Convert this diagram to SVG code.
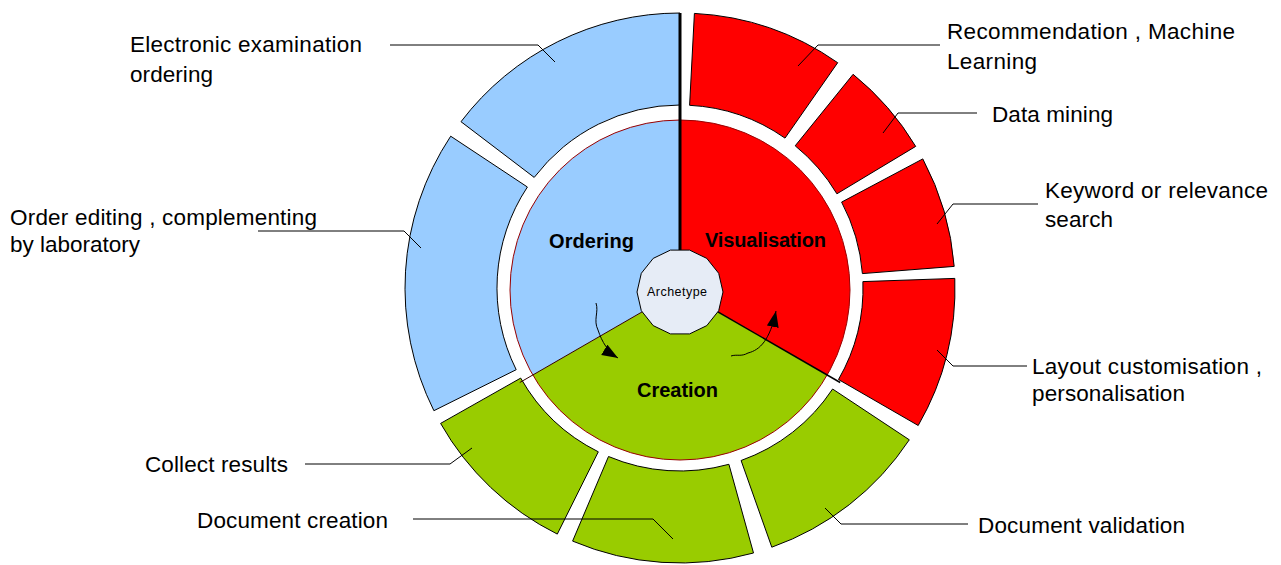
<svg xmlns="http://www.w3.org/2000/svg" width="1281" height="565" viewBox="0 0 1281 565">
<style>
.lbl{font-family:"Liberation Sans",Arial,sans-serif;font-size:22.5px;fill:#000}
.core{font-family:"Liberation Sans",Arial,sans-serif;font-size:20px;font-weight:bold;fill:#000}
.seg{stroke:#000;stroke-width:1}
.blue{fill:#99CCFF}
.red{fill:#FF0000}
.green{fill:#99CC00}
.lead{fill:none;stroke:#000;stroke-width:1}
.arr{fill:none;stroke:#000;stroke-width:1}
</style>
<defs>
<marker id="ah" markerUnits="userSpaceOnUse" markerWidth="17" markerHeight="13" refX="16" refY="6" orient="auto">
<path d="M0,0 L16,6 L0,12 Z" fill="#000"/>
</marker>
</defs>
<rect width="1281" height="565" fill="#fff"/>

<g id="ring-ordering">
<g id="seg-electronic"><path class="seg blue" d="M680,13 A275,275 0 0 0 461,121.7 L534.2,177.4 A183,183 0 0 1 680,105 Z"/></g>
<g id="seg-order-editing"><path class="seg blue" d="M450.7,136.2 A275,275 0 0 0 433.9,410.7 L516.2,369.7 A183,183 0 0 1 527.4,187 Z"/></g>
</g>
<g id="ring-creation">
<g id="seg-collect"><path class="seg green" d="M440.6,423.4 A275,275 0 0 0 557.3,534.1 L598.3,451.8 A183,183 0 0 1 520.7,378.1 Z"/></g>
<g id="seg-doc-creation"><path class="seg green" d="M572.6,541.1 A275,275 0 0 0 753.5,553 L728.9,464.3 A183,183 0 0 1 608.5,456.5 Z"/></g>
<g id="seg-doc-validation"><path class="seg green" d="M771.8,547.2 A275,275 0 0 0 909.3,439.8 L832.6,389 A183,183 0 0 1 741.1,460.5 Z"/></g>
</g>
<g id="ring-visualisation">
<g id="seg-layout"><path class="seg red" d="M918.2,425.5 A275,275 0 0 0 954.8,278.4 L862.9,281.6 A183,183 0 0 1 838.5,379.5 Z"/></g>
<g id="seg-keyword"><path class="seg red" d="M954.2,266.4 A275,275 0 0 0 922.8,158.9 L841.6,202.1 A183,183 0 0 1 862.4,273.6 Z"/></g>
<g id="seg-datamining"><path class="seg red" d="M915.7,146.4 A275,275 0 0 0 853.1,74.3 L795.2,145.8 A183,183 0 0 1 836.9,193.8 Z"/></g>
<g id="seg-recommendation"><path class="seg red" d="M837.7,62.7 A275,275 0 0 0 694.4,13.4 L689.6,105.3 A183,183 0 0 1 785,138.1 Z"/></g>
</g>

<g id="core">
<g id="ordering"><path class="blue" d="M680,290 L680,120 A170,170 0 0 0 532.8,375 Z"/></g>
<g id="visualisation"><path class="red" d="M680,290 L680,120 A170,170 0 0 1 827.2,375 Z"/></g>
<g id="creation"><path class="green" d="M680,290 L532.8,375 A170,170 0 0 0 827.2,375 Z"/></g>
<circle cx="680" cy="290" r="170" fill="none" stroke="#990000" stroke-width="1"/>
<line x1="680" y1="290" x2="519.8" y2="382.5" stroke="#330000" stroke-width="1"/>
<line x1="680" y1="290" x2="840.2" y2="382.5" stroke="#000" stroke-width="1.5"/>
<line x1="680" y1="13" x2="680" y2="252" stroke="#000" stroke-width="3"/>
<text class="core" x="549" y="248" textLength="85">Ordering</text>
<text class="core" x="705" y="247" textLength="121">Visualisation</text>
<text class="core" x="637" y="397" textLength="81">Creation</text>
</g>

<g id="archetype">
<polygon points="723,292 718.7,273.3 706.8,258.4 689.6,250.1 670.4,250.1 653.2,258.4 641.3,273.3 637,292 641.3,310.7 653.2,325.6 670.4,333.9 689.6,333.9 706.8,325.6 718.7,310.7" fill="#E6ECF6" stroke="#000" stroke-width="1"/>
<text x="647" y="296" textLength="60" style="font-family:'Liberation Sans',Arial,sans-serif;font-size:12.5px;fill:#000">Archetype</text>
</g>

<g id="connectors">
<path class="lead" d="M390,45 H538 L555,62"/>
<path class="lead" d="M258,231 H404 L421,248"/>
<path class="lead" d="M798,66 L818,45 H940"/>
<path class="lead" d="M883,133 L898,113 H977"/>
<path class="lead" d="M937,224 L953,204 H1038"/>
<path class="lead" d="M937,350 L953,366 H1027"/>
<path class="lead" d="M825,508 L841,524 H968"/>
<path class="lead" d="M305,464 H450 L472,448"/>
<path class="lead" d="M413,519 H653 L673,539"/>
<path class="arr" marker-end="url(#ah)" d="M596,303 C599,312 593,320 598,330 C602,342 608,352 618,358"/>
<path class="arr" marker-end="url(#ah)" d="M731,356 C737,354 741,357 748,353 C760,350 770,340 776,311"/>
</g>

<g id="labels">
<text class="lbl" x="130" y="52" textLength="232">Electronic examination</text>
<text class="lbl" x="130" y="82" textLength="83">ordering</text>
<text class="lbl" x="10" y="225" textLength="307">Order editing , complementing</text>
<text class="lbl" x="10" y="252" textLength="130">by laboratory</text>
<text class="lbl" x="947" y="39" textLength="288">Recommendation , Machine</text>
<text class="lbl" x="947" y="69" textLength="90">Learning</text>
<text class="lbl" x="992" y="122" textLength="121">Data mining</text>
<text class="lbl" x="1045" y="198" textLength="223">Keyword or relevance</text>
<text class="lbl" x="1045" y="227" textLength="68">search</text>
<text class="lbl" x="1032" y="374" textLength="230">Layout customisation ,</text>
<text class="lbl" x="1032" y="401" textLength="153">personalisation</text>
<text class="lbl" x="978" y="533" textLength="207">Document validation</text>
<text class="lbl" x="145" y="472" textLength="143">Collect results</text>
<text class="lbl" x="197" y="528" textLength="191">Document creation</text>
</g>
</svg>
